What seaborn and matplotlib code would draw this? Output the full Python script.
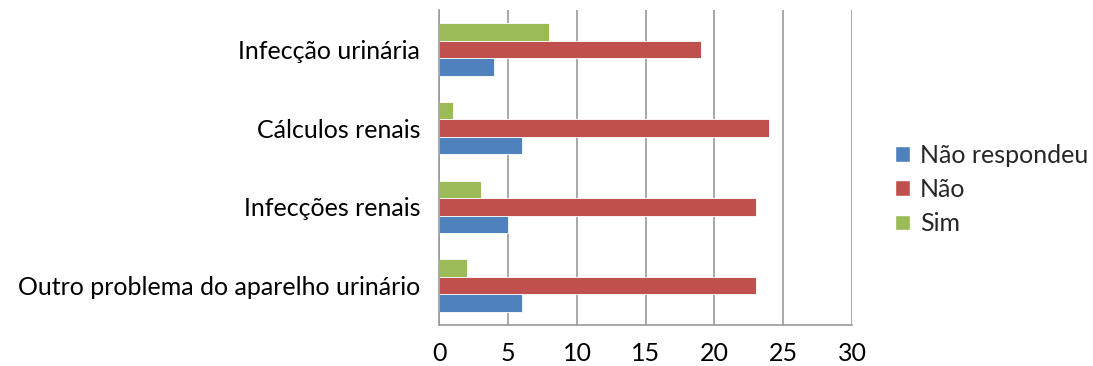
import matplotlib
matplotlib.use("Agg")
import matplotlib.pyplot as plt
from matplotlib.patches import Patch
from matplotlib.ticker import FixedLocator
import pandas as pd
import seaborn as sns

categories = ["Infecção urinária", "Cálculos renais", "Infecções renais",
              "Outro problema do aparelho urinário"]
sim = [8, 1, 3, 2]
nao = [19, 24, 23, 23]
nao_respondeu = [4, 6, 5, 6]

series = ["Sim", "Não", "Não respondeu"]
colors = {"Sim": "#9BBB59", "Não": "#C0504D", "Não respondeu": "#4F81BD"}

df = pd.DataFrame({
    "categoria": categories * 3,
    "resposta": ["Sim"] * 4 + ["Não"] * 4 + ["Não respondeu"] * 4,
    "valor": sim + nao + nao_respondeu,
})

sns.set_style("white")
plt.rcParams["font.family"] = ["Lato", "DejaVu Sans"]

fig = plt.figure(figsize=(10.93, 3.66), dpi=100)
ax = fig.add_axes([0.4021, 0.112, 0.3774, 0.8608])

sns.barplot(data=df, y="categoria", x="valor", hue="resposta",
            order=categories, hue_order=series, palette=colors,
            saturation=1, orient="h", width=0.667, gap=0, ax=ax,
            legend=False, edgecolor="#ffffff", linewidth=0.6)

grid_c = "#9a9a9a"
ax.set_xlim(0, 30)
ax.set_ylim(3.5, -0.5)
ax.set_xticks(range(0, 31, 5))
ax.grid(axis="x", color=grid_c, linewidth=1.2)
ax.set_axisbelow(True)
ax.set_xlabel("")
ax.set_ylabel("")

for s in ["top", "right"]:
    ax.spines[s].set_visible(False)
for s in ["left", "bottom"]:
    ax.spines[s].set_color(grid_c)
    ax.spines[s].set_linewidth(1.2)

ax.tick_params(axis="x", length=9, width=1.2, color=grid_c, labelsize=18,
               labelcolor="black", pad=3)
ax.tick_params(axis="y", which="major", length=0, labelsize=18,
               labelcolor="black", pad=14)
ax.yaxis.set_minor_locator(FixedLocator([-0.5, 0.5, 1.5, 2.5, 3.5]))
ax.tick_params(axis="y", which="minor", length=12, width=1.2, color=grid_c)

handles = [Patch(facecolor=colors[s], edgecolor="white", label=s)
           for s in reversed(series)]
fig.legend(handles=handles, loc="center left", bbox_to_anchor=(0.819, 0.482),
           frameon=False, fontsize=18, handlelength=0.6, handleheight=0.6,
           handletextpad=0.4, labelspacing=0.45, borderpad=0,
           borderaxespad=0)

fig.savefig("out.png", dpi=100)
